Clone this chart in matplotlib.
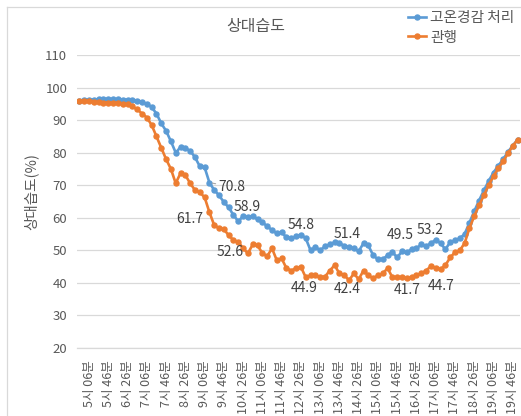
import matplotlib
matplotlib.use("Agg")
import matplotlib.pyplot as plt
from matplotlib.lines import Line2D

plt.rcParams['font.family'] = ['Noto Sans CJK KR', 'DejaVu Sans']

# ---------------- data ----------------
title = "상대습도"
ylabel = "상대습도(%)"
series_names = ["고온경감 처리", "관행"]

blue = [96.0, 96.2, 96.3, 96.3, 96.4, 96.5, 96.5, 96.4, 96.4, 96.3,
        96.3, 96.1, 96.0, 95.6, 95.0, 94.0, 92.0, 89.0, 86.7, 83.5,
        80.0, 81.7, 81.3, 80.6, 78.6, 75.8, 75.5, 70.8, 68.5, 66.9,
        64.8, 63.2, 60.8, 58.9, 60.5, 60.2, 60.5, 59.5, 58.6, 57.4,
        56.2, 55.2, 55.5, 54.0, 53.7, 54.3, 54.8, 53.7, 50.0, 51.0,
        50.0, 51.2, 51.8, 52.5, 52.2, 51.4, 51.0, 50.6, 49.7, 52.2,
        51.5, 48.5, 47.2, 47.2, 48.5, 49.5, 47.8, 49.7, 49.4, 50.3,
        50.6, 51.8, 51.2, 52.2, 53.2, 52.2, 50.3, 52.5, 53.1, 53.7,
        55.0, 58.5, 62.0, 65.3, 68.4, 71.3, 73.9, 76.0, 78.0, 80.2,
        82.2, 84.0]

orange = [96.0, 95.9, 95.8, 95.7, 95.5, 95.4, 95.4, 95.3, 95.2, 95.1,
          94.8, 94.2, 93.3, 92.0, 90.8, 88.5, 85.0, 81.5, 78.0, 75.0,
          70.6, 73.7, 73.1, 70.6, 68.5, 67.8, 66.3, 61.7, 57.7, 56.8,
          56.5, 54.6, 53.1, 52.6, 50.6, 49.1, 51.8, 51.5, 49.1, 48.2,
          50.6, 46.9, 47.5, 44.5, 43.8, 44.5, 44.9, 41.7, 42.3, 42.3,
          41.7, 41.9, 43.8, 45.4, 42.9, 42.4, 40.8, 42.9, 41.1, 43.8,
          42.3, 41.4, 42.3, 42.9, 44.5, 41.7, 41.7, 41.7, 41.4, 41.7,
          42.3, 42.9, 43.8, 45.1, 44.7, 44.2, 45.4, 47.8, 49.4, 50.0,
          52.2, 56.8, 60.5, 63.8, 66.9, 70.0, 72.8, 75.2, 77.3, 79.8,
          82.0, 84.0]

tick_labels = ["5시 06분", "5시 46분", "6시 26분", "7시 06분", "7시 46분",
               "8시 26분", "9시 06분", "9시 46분", "10시 26분", "11시 06분",
               "11시 46분", "12시 26분", "13시 06분", "13시 46분", "14시 26분",
               "15시 06분", "15시 46분", "16시 26분", "17시 06분", "17시 46분",
               "18시 26분", "19시 06분", "19시 46분"]
first_tick_index = 2
tick_step = 4

# labelled points: index, text offset in pixels (dx, dy)
blue_label_idx = [27, 33, 46, 55, 65, 74]
orange_label_idx = [27, 33, 46, 55, 65, 74]
blue_label_off = [(9, -4), (9, 14), (0, 10), (3, 12), (8, 17), (-6, 10)]
orange_label_off = [(-20, -7), (-8, -10), (3, -21), (3, -14), (15, -13), (5, -18)]

# ---------------- style ----------------
W, H = 521, 416
BLUE = "#5B9BD5"
ORANGE = "#ED7D31"
TXT = "#595959"
GRID = "#d9d9d9"

fig = plt.figure(figsize=(W / 100, H / 100), dpi=100)
ax = fig.add_axes([77 / W, 1 - 348 / H, 443 / W, (348 - 55) / H])

x = list(range(len(blue)))
ax.plot(x, blue, color=BLUE, lw=1.9, marker='o', ms=3.6, label=series_names[0], zorder=3)
ax.plot(x, orange, color=ORANGE, lw=1.9, marker='o', ms=3.6, label=series_names[1], zorder=3)

ax.set_xlim(-0.5, len(blue) - 0.5)
ax.set_ylim(20, 110)
ax.set_yticks(range(20, 111, 10))
ax.yaxis.grid(True, color=GRID, lw=0.9)
ax.set_axisbelow(True)
for s in ['top', 'right', 'left']:
    ax.spines[s].set_visible(False)
ax.spines['bottom'].set_color(GRID)
ax.spines['bottom'].set_linewidth(0.9)

ticks = [first_tick_index + tick_step * k for k in range(len(tick_labels))]
ax.set_xticks(ticks)
ax.set_xticklabels(tick_labels, rotation=90, fontsize=9, color=TXT)
ax.tick_params(axis='x', length=0, pad=9)
ax.tick_params(axis='y', length=0, pad=7, labelsize=9.5, labelcolor=TXT)

ax.set_ylabel(ylabel, fontsize=10.5, color=TXT)
ax.yaxis.set_label_coords(-0.088, 0.535)

for i, (dx, dy) in zip(blue_label_idx, blue_label_off):
    if i == 27:
        ax.annotate(f"{blue[i]:.1f}", (i, blue[i]), xytext=(dx, dy), textcoords='offset pixels',
                    ha='left', va='center', fontsize=10, color="#404040",
                    arrowprops=dict(arrowstyle='-', color='#a6a6a6', lw=0.8, shrinkA=0, shrinkB=2))
    else:
        ax.annotate(f"{blue[i]:.1f}", (i, blue[i]), xytext=(dx, dy), textcoords='offset pixels',
                    ha='center', va='center', fontsize=10, color="#404040")
for i, (dx, dy) in zip(orange_label_idx, orange_label_off):
    ax.annotate(f"{orange[i]:.1f}", (i, orange[i]), xytext=(dx, dy), textcoords='offset pixels',
                ha='center', va='center', fontsize=10, color="#404040")

fig.text(256 / W, 1 - 27 / H, title, ha='center', va='center', fontsize=11.5, color=TXT)

leg = fig.legend(loc='upper left', bbox_to_anchor=(408 / W, 1 - 11 / H), frameon=False,
                 fontsize=10.6, handlelength=1.2, handletextpad=0.3, labelspacing=0.38,
                 borderpad=0, borderaxespad=0)
for t in leg.get_texts():
    t.set_color(TXT)

# chart-area border (top and left visible)
fig.add_artist(Line2D([7 / W, 1], [1 - 7 / H, 1 - 7 / H], color=GRID, lw=0.9))
fig.add_artist(Line2D([7 / W, 7 / W], [0, 1 - 7 / H], color=GRID, lw=0.9))

fig.savefig("out.png", dpi=100)
